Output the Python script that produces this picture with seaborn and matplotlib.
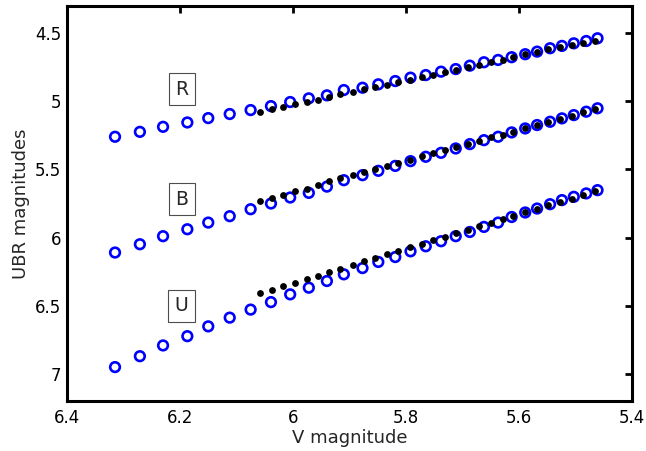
import numpy as np
import pandas as pd
import matplotlib
matplotlib.use("Agg")
import matplotlib.pyplot as plt
import seaborn as sns

# Blue open circles (model) -- V magnitude
v_model = [6.315, 6.271, 6.230, 6.187, 6.150, 6.112, 6.075, 6.039, 6.005, 5.972,
           5.940, 5.910, 5.877, 5.849, 5.819, 5.792, 5.765, 5.738, 5.712, 5.687,
           5.662, 5.637, 5.613, 5.589, 5.568, 5.545, 5.524, 5.503, 5.481, 5.461]
r_model = [5.260, 5.224, 5.187, 5.155, 5.123, 5.093, 5.064, 5.035, 5.005, 4.978,
           4.956, 4.917, 4.900, 4.875, 4.851, 4.826, 4.807, 4.782, 4.763, 4.738,
           4.713, 4.696, 4.676, 4.654, 4.635, 4.610, 4.593, 4.574, 4.557, 4.537]
b_model = [6.110, 6.049, 5.990, 5.939, 5.890, 5.843, 5.792, 5.750, 5.706, 5.672,
           5.626, 5.579, 5.542, 5.510, 5.474, 5.439, 5.407, 5.378, 5.346, 5.314,
           5.285, 5.260, 5.228, 5.199, 5.174, 5.150, 5.125, 5.101, 5.076, 5.051]
u_model = [6.951, 6.871, 6.792, 6.724, 6.652, 6.588, 6.529, 6.474, 6.417, 6.368,
           6.319, 6.270, 6.224, 6.179, 6.143, 6.101, 6.064, 6.027, 5.990, 5.959,
           5.922, 5.890, 5.849, 5.816, 5.787, 5.755, 5.725, 5.701, 5.676, 5.652]

# Black dots (observed)
v_obs = [6.058, 6.038, 6.017, 5.996, 5.976, 5.955, 5.936, 5.916, 5.894, 5.874,
         5.854, 5.834, 5.814, 5.793, 5.772, 5.752, 5.731, 5.712, 5.691, 5.670,
         5.650, 5.629, 5.610, 5.589, 5.569, 5.548, 5.527, 5.507, 5.486, 5.465]
r_obs = [5.076, 5.057, 5.044, 5.022, 5.003, 4.990, 4.966, 4.949, 4.934, 4.912,
         4.896, 4.880, 4.860, 4.843, 4.824, 4.807, 4.787, 4.770, 4.750, 4.733,
         4.713, 4.696, 4.676, 4.652, 4.635, 4.619, 4.603, 4.586, 4.569, 4.554]
b_obs = [5.733, 5.706, 5.684, 5.660, 5.640, 5.616, 5.586, 5.566, 5.542, 5.522,
         5.494, 5.472, 5.450, 5.428, 5.402, 5.382, 5.358, 5.336, 5.310, 5.290,
         5.265, 5.244, 5.222, 5.199, 5.174, 5.150, 5.128, 5.106, 5.079, 5.056]
u_obs = [6.407, 6.382, 6.358, 6.331, 6.307, 6.282, 6.253, 6.228, 6.204, 6.174,
         6.147, 6.123, 6.097, 6.071, 6.046, 6.020, 5.994, 5.968, 5.943, 5.917,
         5.893, 5.865, 5.840, 5.814, 5.788, 5.763, 5.737, 5.715, 5.689, 5.660]

band_names = ["R", "B", "U"]
label_x = [6.197, 6.197, 6.197]
label_y = [4.910, 5.718, 6.500]

x_ticks = [6.4, 6.2, 6.0, 5.8, 5.6, 5.4]
x_ticklabels = ["6.4", "6.2", "6", "5.8", "5.6", "5.4"]
y_ticks = [4.5, 5.0, 5.5, 6.0, 6.5, 7.0]
y_ticklabels = ["4.5", "5", "5.5", "6", "6.5", "7"]

model = pd.concat([
    pd.DataFrame({"V": v_model, "mag": r_model, "band": "R"}),
    pd.DataFrame({"V": v_model, "mag": b_model, "band": "B"}),
    pd.DataFrame({"V": v_model, "mag": u_model, "band": "U"}),
])
obs = pd.concat([
    pd.DataFrame({"V": v_obs, "mag": r_obs, "band": "R"}),
    pd.DataFrame({"V": v_obs, "mag": b_obs, "band": "B"}),
    pd.DataFrame({"V": v_obs, "mag": u_obs, "band": "U"}),
])

sns.set_style("white")
plt.rcParams["font.family"] = ["DejaVu Sans"]

fig = plt.figure(figsize=(6.46, 4.51), dpi=100)
ax = fig.add_axes([67 / 646, 1 - 401 / 451, (632 - 67) / 646, (401 - 6) / 451])

sns.scatterplot(data=model, x="V", y="mag", ax=ax, marker="o", s=48,
                facecolors="none", edgecolor="#0000ff", linewidth=1.9,
                legend=False, zorder=2)
sns.scatterplot(data=obs, x="V", y="mag", ax=ax, marker="o", s=24,
                color="black", edgecolor="black", linewidth=0,
                legend=False, zorder=3)

for name, lx, ly in zip(band_names, label_x, label_y):
    ax.text(lx, ly, name, fontsize=13.5, ha="center", va="center",
            bbox=dict(boxstyle="square,pad=0.34", fc="white", ec="0.3", lw=0.8))

ax.set_xlim(6.4, 5.4)
ax.set_ylim(7.2, 4.3)
ax.set_xticks(x_ticks)
ax.set_xticklabels(x_ticklabels)
ax.set_yticks(y_ticks)
ax.set_yticklabels(y_ticklabels)
ax.set_xlabel("V magnitude", fontsize=13, labelpad=1)
ax.set_ylabel("UBR magnitudes", fontsize=13, labelpad=4)

for sp in ax.spines.values():
    sp.set_visible(True)
    sp.set_linewidth(2.2)
    sp.set_color("black")
ax.tick_params(direction="in", length=5, width=2, top=True, right=True,
               labelsize=12, colors="black")
ax.tick_params(axis="x", pad=6)
ax.tick_params(axis="y", pad=4)
ax.grid(False)

fig.savefig("out.png", dpi=100)
